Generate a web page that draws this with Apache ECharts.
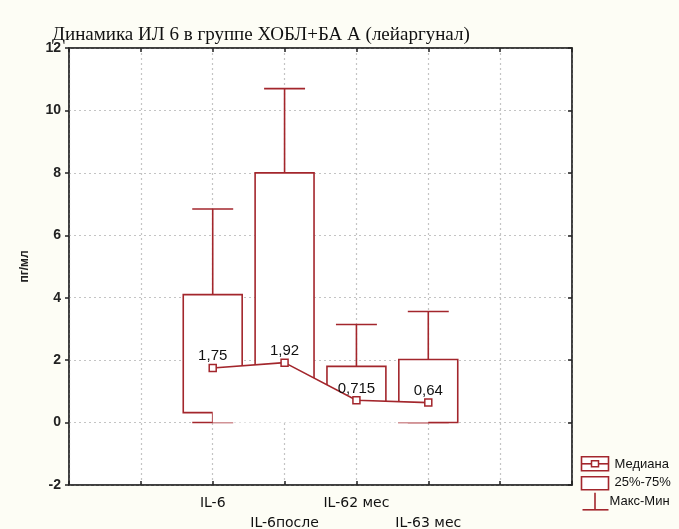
<!DOCTYPE html>
<html>
<head>
<meta charset="utf-8">
<script src="https://cdn.jsdelivr.net/npm/echarts@6/dist/echarts.min.js"></script>
<style>
html,body{margin:0;padding:0;background:#fdfdf5;}
#chart{width:679px;height:529px;}
</style>
</head>
<body>
<div id="chart"></div>
<script>
// ---- data ----
const categories = ['IL-6', 'IL-6после', 'IL-62 мес', 'IL-63 мес'];
const minVals    = [0,    0.5,  0.1,  0];
const q1Vals     = [0.32, 1.3,  0.4,  0];
const medians    = [1.75, 1.92, 0.715, 0.64];
const q3Vals     = [4.1,  8.0,  1.8,  2.02];
const maxVals    = [6.84, 10.7, 3.14, 3.56];
const yTicks     = [-2, 0, 2, 4, 6, 8, 10, 12];
const titleText  = 'Динамика ИЛ 6 в группе ХОБЛ+БА А (лейаргунал)';
const yName      = 'пг/мл';
const legendNames = ['Медиана', '25%-75%', 'Макс-Мин'];

const RED = '#a3262c';
const OFFSET = 2; // category i sits at x = i + OFFSET on a 0..7 scale

const boxData = categories.map((c, i) => [i + OFFSET, minVals[i], q1Vals[i], q3Vals[i], maxVals[i]]);
const medData = categories.map((c, i) => [i + OFFSET, medians[i]]);

function renderBox(params, api) {
  const x = api.value(0);
  const mn = api.value(1), q1 = api.value(2), q3 = api.value(3), mx = api.value(4);
  const pQ3 = api.coord([x, q3]), pQ1 = api.coord([x, q1]);
  const pMax = api.coord([x, mx]), pMin = api.coord([x, mn]);
  const unit = api.size([1, 0])[0];
  const bw = unit * 0.82, cw = unit * 0.57;
  const cx = pQ3[0];
  const ls = {stroke: RED, lineWidth: 1.6, fill: null};
  return {
    type: 'group',
    children: [
      {type: 'line', shape: {x1: cx, y1: pQ3[1], x2: cx, y2: pMax[1]}, style: ls},
      {type: 'line', shape: {x1: cx - cw / 2, y1: pMax[1], x2: cx + cw / 2, y2: pMax[1]}, style: ls},
      {type: 'line', shape: {x1: cx, y1: pQ1[1], x2: cx, y2: pMin[1]}, style: ls},
      {type: 'line', shape: {x1: cx - cw / 2, y1: pMin[1], x2: cx + cw / 2, y2: pMin[1]}, style: ls},
      {type: 'rect', shape: {x: cx - bw / 2, y: pQ3[1], width: bw, height: pQ1[1] - pQ3[1]},
        style: {fill: '#fff', stroke: RED, lineWidth: 1.6}}
    ]
  };
}

const chart = echarts.init(document.getElementById('chart'), null, {renderer: 'canvas'});
const fontF = '"Liberation Sans", Arial, sans-serif';
const fontD = '"DejaVu Sans", sans-serif';
const gridLine = {show: true, lineStyle: {color: '#c4c4c4', type: [2, 3], width: 1.2}};
const frame = {show: true, onZero: false, lineStyle: {color: '#333', width: 1.5}};

chart.setOption({
  backgroundColor: '#fdfdf5',
  animation: false,
  title: {
    text: titleText, left: 47, top: 21,
    textStyle: {fontFamily: '"Liberation Serif", "Times New Roman", serif', fontSize: 19, fontWeight: 'normal', color: '#111'}
  },
  grid: {left: 69, right: 107, top: 48, bottom: 44, containLabel: false, outerBoundsMode: 'none',
    show: true, backgroundColor: '#fff', borderColor: '#333', borderWidth: 1.5},
  xAxis: [{
    type: 'value', min: 0, max: 7, interval: 1, position: 'bottom',
    axisLine: frame,
    axisTick: {show: true, inside: true, length: 4, lineStyle: {color: '#222', width: 1.5}},
    splitLine: gridLine,
    axisLabel: {
      margin: 8, fontFamily: fontD, fontSize: 14, color: '#111', lineHeight: 20,
      formatter: function (v) {
        const i = Math.round(v) - OFFSET;
        if (i < 0 || i >= categories.length) return '';
        return i % 2 === 0 ? categories[i] : '\n' + categories[i];
      }
    }
  }, {
    type: 'value', min: 0, max: 7, interval: 1, position: 'top',
    axisLine: frame,
    axisTick: {show: true, inside: true, length: 4, lineStyle: {color: '#222', width: 1.5}},
    axisLabel: {show: false}, splitLine: {show: false}
  }],
  yAxis: [{
    type: 'value', min: yTicks[0], max: yTicks[yTicks.length - 1], interval: 2,
    name: yName, nameLocation: 'middle', nameGap: 38, nameRotate: 90,
    nameTextStyle: {fontFamily: fontF, fontSize: 12, fontWeight: 'bold', color: '#222'},
    axisLine: frame,
    axisTick: {show: true, inside: false, length: 4, lineStyle: {color: '#222', width: 1.5}},
    splitLine: gridLine,
    axisLabel: {margin: 8, fontFamily: fontF, fontSize: 14, fontWeight: 'bold', color: '#222'}
  }, {
    type: 'value', min: yTicks[0], max: yTicks[yTicks.length - 1], interval: 2, position: 'right',
    axisLine: frame,
    axisTick: {show: true, inside: true, length: 4, lineStyle: {color: '#222', width: 1.5}},
    axisLabel: {show: false}, splitLine: {show: false}
  }],
  series: [{
    type: 'custom', renderItem: renderBox, data: boxData, z: 2,
    encode: {x: 0, y: [1, 2, 3, 4]}
  }, {
    type: 'line', data: medData, z: 3,
    symbol: 'rect', symbolSize: 7,
    itemStyle: {color: '#fff', borderColor: RED, borderWidth: 1.5},
    lineStyle: {color: RED, width: 1.6},
    areaStyle: {color: '#fff', opacity: 1, origin: 'auto'},
    label: {
      show: true, position: 'top', distance: 0,
      fontFamily: fontF, fontSize: 15, color: '#111',
      formatter: p => String(p.value[1]).replace('.', ',')
    }
  }],
  graphic: [{
    type: 'group', left: 579, top: 456,
    children: [
      {type: 'rect', shape: {x: 0, y: 0, width: 27, height: 14}, style: {fill: '#fff', stroke: RED, lineWidth: 1.6}},
      {type: 'line', shape: {x1: 0, y1: 7, x2: 27, y2: 7}, style: {stroke: RED, lineWidth: 1.6}},
      {type: 'rect', shape: {x: 10, y: 4, width: 7, height: 6}, style: {fill: '#fff', stroke: RED, lineWidth: 1.5}},
      {type: 'rect', shape: {x: 0, y: 20, width: 27, height: 13}, style: {fill: '#fff', stroke: RED, lineWidth: 1.6}},
      {type: 'line', shape: {x1: 13.5, y1: 36, x2: 13.5, y2: 53}, style: {stroke: RED, lineWidth: 1.6}},
      {type: 'line', shape: {x1: 1, y1: 53, x2: 27, y2: 53}, style: {stroke: RED, lineWidth: 1.6}},
      {type: 'text', x: 33, y: 8, style: {text: legendNames[0], font: '13px "Liberation Sans", Arial', fill: '#111', verticalAlign: 'middle'}},
      {type: 'text', x: 33, y: 26, style: {text: legendNames[1], font: '13px "Liberation Sans", Arial', fill: '#111', verticalAlign: 'middle'}},
      {type: 'text', x: 28, y: 45, style: {text: legendNames[2], font: '13px "Liberation Sans", Arial', fill: '#111', verticalAlign: 'middle'}}
    ]
  }]
});
</script>
</body>
</html>
